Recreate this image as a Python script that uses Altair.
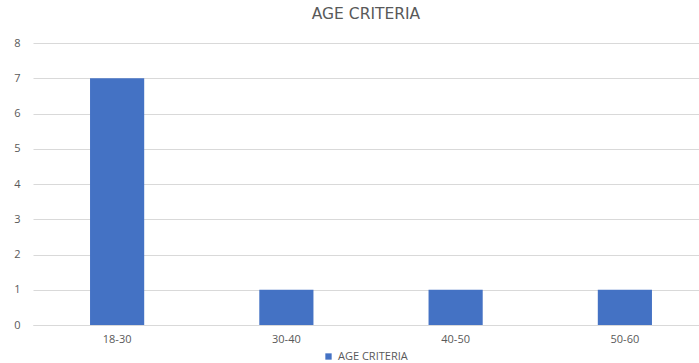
import altair as alt
import pandas as pd

categories = ["18-30", "30-40", "40-50", "50-60"]
values = [7, 1, 1, 1]
series_name = "AGE CRITERIA"

df = pd.DataFrame({"age": categories, "count": values, "series": [series_name] * len(categories)})

FONT = "Open Sans"
GRAY = "#595959"

chart = alt.Chart(df).mark_bar(color="#4472C4").encode(
    x=alt.X("age:N", sort=categories, title=None,
            scale=alt.Scale(range=[0, 676], paddingInner=0.68, paddingOuter=0.337),
            axis=alt.Axis(labelAngle=0, ticks=False, domain=True, domainColor="#d9d9d9",
                          labelColor=GRAY, labelFontSize=11, labelFont=FONT, labelPadding=8,
                          grid=False)),
    y=alt.Y("count:Q", title=None,
            scale=alt.Scale(domain=[0, 8]),
            axis=alt.Axis(values=[0, 1, 2, 3, 4, 5, 6, 7, 8], ticks=False, domain=False,
                          gridColor="#d9d9d9", labelColor=GRAY, labelFontSize=11,
                          labelFont=FONT, labelPadding=13)),
    fill=alt.Fill("series:N", scale=alt.Scale(range=["#4472C4"]),
                  legend=alt.Legend(title=None, orient="none", legendX=290, legendY=308,
                                    symbolType="square", symbolSize=40, symbolStrokeWidth=0,
                                    labelColor=GRAY, labelFontSize=11, labelFont=FONT,
                                    padding=0)),
).properties(
    width=666,
    height=282,
    title=alt.TitleParams("AGE CRITERIA", fontSize=15.5, font="DejaVu Sans", color=GRAY,
                          fontWeight="normal", offset=15),
    autosize=alt.AutoSizeParams(type="none"),
    padding={"left": 33, "top": 43, "right": 0, "bottom": 38},
).configure_view(stroke=None)

chart.save("out.html", embed_options={"renderer": "svg", "actions": False})
